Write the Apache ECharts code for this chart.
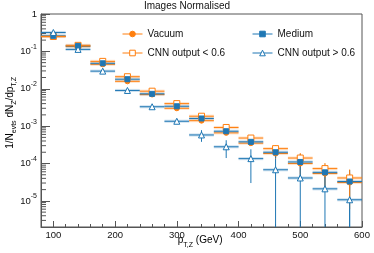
<!DOCTYPE html>
<html><head><meta charset="utf-8">
<script src="https://cdn.jsdelivr.net/npm/echarts@6/dist/echarts.min.js"></script>
<style>html,body{margin:0;padding:0;background:#fff}#c{width:374px;height:253px}</style>
</head><body><div id="c"></div>
<script>
// ---- data ----
const binCenters = [100,140,180,220,260,300,340,380,420,460,500,540,580];
const binHalfWidth = 20;
const vacuum     = [0.25,0.135,0.045,0.0158,0.0070,0.0030,0.0014,6.6e-4,3.5e-4,1.85e-4,1.0e-4,5.4e-5,3.1e-5];
const vacuumErr  = [0.005,0.002,0.0009,0.0004,0.00016,9e-5,6e-5,5e-5,4e-5,5e-5,5e-5,3e-5,2.5e-5];
const medium     = [0.26,0.14,0.048,0.018,0.0073,0.0034,0.0016,7.3e-4,3.8e-4,2.0e-4,1.1e-4,5.8e-5,3.3e-5];
const mediumErr  = [0.004,0.002,0.0008,0.0004,0.00015,8e-5,5e-5,4e-5,3.5e-5,6e-5,7e-5,3.5e-5,3.4e-5];
const cnnLow     = [0.25,0.145,0.054,0.021,0.0086,0.0040,0.00184,9.2e-4,4.8e-4,2.5e-4,1.4e-4,7.3e-5,4.1e-5];
const cnnLowErr  = [0.006,0.003,0.001,0.0005,0.0002,0.0001,7e-5,7e-5,9e-5,6e-5,5e-5,3e-5,2.8e-5];
const cnnHigh    = [0.32,0.113,0.0296,0.0090,0.0033,0.00135,5.8e-4,2.8e-4,1.35e-4,6.8e-5,4.1e-5,2.1e-5,1.07e-5];
const cnnHighErr = [0.02,0.006,0.0015,0.0005,0.00025,0.00015,2.0e-4,1.4e-4,1.05e-4,1.3e-4,6.5e-5,4e-5,3.2e-5];
const xTickLabels = [100,200,300,400,500,600];
const xMin = 80, xMax = 600, yMin = 2e-6, yMax = 1;
const seriesNames = ['Vacuum','Medium','CNN output < 0.6','CNN output > 0.6'];

// ---- styles ----
const ORANGE = '#ff7f0e', BLUE = '#1f77b4';
const ORANGE_BAND = 'rgba(255,127,14,0.22)', BLUE_BAND = 'rgba(31,119,180,0.22)';
const bandFactor = 1.1;
const FONT = 'Liberation Sans, Arial, Helvetica, sans-serif';
const TXT = '#111';

const yMinorTicks = [];
for (let e = -6; e <= -1; e++) for (let k = 2; k <= 9; k++) {
  const v = k * Math.pow(10, e);
  if (v > yMin && v < yMax) yMinorTicks.push(v);
}

function errSeries(vals, errs, color, bandColor) {
  return {
    type: 'custom', coordinateSystem: 'cartesian2d', xAxisIndex: 0, yAxisIndex: 0,
    clip: true, silent: true, encode: {x: 0, y: 1},
    data: binCenters.map((x, i) => [x, vals[i], errs[i]]),
    renderItem(params, api) {
      const x = api.value(0), y = api.value(1), e = api.value(2);
      const l = api.coord([x - binHalfWidth, y]), r = api.coord([x + binHalfWidth, y]);
      const bt = api.coord([x, y * bandFactor]), bb = api.coord([x, y / bandFactor]);
      const et = api.coord([x, y + e]), eb = api.coord([x, Math.max(y - e, yMin)]);
      return {type: 'group', children: [
        {type: 'rect', shape: {x: l[0], y: bt[1], width: r[0] - l[0], height: bb[1] - bt[1]}, style: {fill: bandColor}},
        {type: 'line', shape: {x1: l[0], y1: l[1], x2: r[0], y2: r[1]}, style: {stroke: color, lineWidth: 1}},
        {type: 'line', shape: {x1: et[0], y1: et[1], x2: eb[0], y2: eb[1]}, style: {stroke: color, lineWidth: 1}}
      ]};
    }
  };
}
function markerSeries(vals, symbol, size, fill, stroke) {
  return {
    type: 'scatter', xAxisIndex: 0, yAxisIndex: 0, silent: true,
    symbol, symbolSize: size,
    itemStyle: {color: fill, borderColor: stroke, borderWidth: 1, opacity: 1},
    data: binCenters.map((x, i) => [x, vals[i]])
  };
}
function legendSeries(name, symbol, fill, stroke) {
  return {
    type: 'line', name, data: [], symbol, symbolSize: 5,
    itemStyle: {color: fill, borderColor: stroke, borderWidth: 1},
    lineStyle: {color: stroke, width: 1}
  };
}

const richSub = {
  h: {fontSize: 1, lineHeight: 16},
  m: {fontSize: 10, fontFamily: FONT, color: TXT, verticalAlign: 'middle', lineHeight: 10},
  s: {fontSize: 7, fontFamily: FONT, color: TXT, verticalAlign: 'bottom', lineHeight: 7}
};

const chart = echarts.init(document.getElementById('c'), null, {renderer: 'canvas'});
chart.setOption({
  animation: false,
  backgroundColor: '#fff',
  title: {
    text: 'Images Normalised', left: 'center', top: 1, padding: 0,
    textStyle: {fontSize: 10, fontWeight: 'normal', color: TXT, fontFamily: FONT}
  },
  grid: {left: 41, right: 12, top: 14, bottom: 26, show: true, borderColor: '#555', borderWidth: 1, backgroundColor: 'transparent'},
  legend: [
    {data: [seriesNames[0], seriesNames[2]], orient: 'vertical', left: 122, top: 29, itemWidth: 20, itemHeight: 7, itemGap: 9,
     selectedMode: false, padding: 0, itemStyle: {borderWidth: 1}, lineStyle: {width: 1},
     textStyle: {fontSize: 10, color: TXT, fontFamily: FONT}},
    {data: [seriesNames[1], seriesNames[3]], orient: 'vertical', left: 252, top: 29, itemWidth: 20, itemHeight: 7, itemGap: 9,
     selectedMode: false, padding: 0, itemStyle: {borderWidth: 1}, lineStyle: {width: 1},
     textStyle: {fontSize: 10, color: TXT, fontFamily: FONT}}
  ],
  xAxis: [
    {type: 'value', min: xMin, max: xMax, interval: 20, position: 'bottom',
     axisLine: {show: true, lineStyle: {color: '#555', width: 1}},
     axisTick: {show: true, inside: true, length: 3, lineStyle: {color: '#555'}},
     axisLabel: {show: false}, splitLine: {show: false}},
    {type: 'value', min: xMin, max: xMax, position: 'bottom',
     axisLine: {show: false},
     axisTick: {show: true, inside: true, length: 6, customValues: xTickLabels, lineStyle: {color: '#555'}},
     axisLabel: {show: true, customValues: xTickLabels, margin: 3, fontSize: 9.5, color: TXT, fontFamily: FONT},
     splitLine: {show: false}}
  ],
  yAxis: [
    {type: 'log', logBase: 10, min: yMin, max: yMax,
     axisLine: {show: true, lineStyle: {color: '#555', width: 1}},
     axisTick: {show: true, inside: true, length: 9, lineStyle: {color: '#555'}},
     splitLine: {show: false},
     axisLabel: {
       show: true, showMinLabel: false, margin: 4, color: TXT, fontFamily: FONT,
       formatter: v => {
         const e = Math.round(Math.log10(v));
         return e === 0 ? '{b|1}' : '{h| }{b|10}{sup|-' + (-e) + '}';
       },
       rich: {
         h: {fontSize: 1, lineHeight: 16},
         b: {fontSize: 9.5, fontFamily: FONT, color: TXT, verticalAlign: 'middle', lineHeight: 10},
         sup: {fontSize: 7, fontFamily: FONT, color: TXT, verticalAlign: 'top', lineHeight: 7}
       }
     }}
  ],
  graphic: [
    {type: 'text', x: 10, y: 113, rotation: Math.PI / 2, silent: true,
     style: {text: '{h| }{m|1/N}{s|evts}{m| dN}{s|Z}{m|/dp}{s|T,Z}', rich: richSub, align: 'center', verticalAlign: 'middle'}},
    {type: 'text', x: 200, y: 240.5, silent: true,
     style: {text: '{h| }{m|p}{s|T,Z}{m| (GeV)}', rich: richSub, align: 'center', verticalAlign: 'middle'}}
  ],
  series: [
    legendSeries(seriesNames[0], 'circle', ORANGE, ORANGE),
    legendSeries(seriesNames[1], 'rect', BLUE, BLUE),
    legendSeries(seriesNames[2], 'rect', '#fff', ORANGE),
    legendSeries(seriesNames[3], 'triangle', '#fff', BLUE),
    {type: 'custom', coordinateSystem: 'cartesian2d', clip: false, silent: true, encode: {x: 0, y: 1},
     data: yMinorTicks.map(v => [xMin, v]),
     renderItem(params, api) {
       const p = api.coord([api.value(0), api.value(1)]);
       return {type: 'line', shape: {x1: p[0], y1: p[1], x2: p[0] + 5, y2: p[1]}, style: {stroke: '#555', lineWidth: 1}};
     }},
    errSeries(cnnHigh, cnnHighErr, BLUE, BLUE_BAND),
    errSeries(vacuum, vacuumErr, ORANGE, ORANGE_BAND),
    errSeries(medium, mediumErr, BLUE, BLUE_BAND),
    errSeries(cnnLow, cnnLowErr, ORANGE, ORANGE_BAND),
    markerSeries(vacuum, 'circle', 5, ORANGE, ORANGE),
    markerSeries(cnnLow, 'rect', 6, '#fff', ORANGE),
    markerSeries(medium, 'rect', 5, BLUE, BLUE),
    markerSeries(cnnHigh, 'triangle', 6, '#fff', BLUE)
  ]
});
</script>
</body></html>
